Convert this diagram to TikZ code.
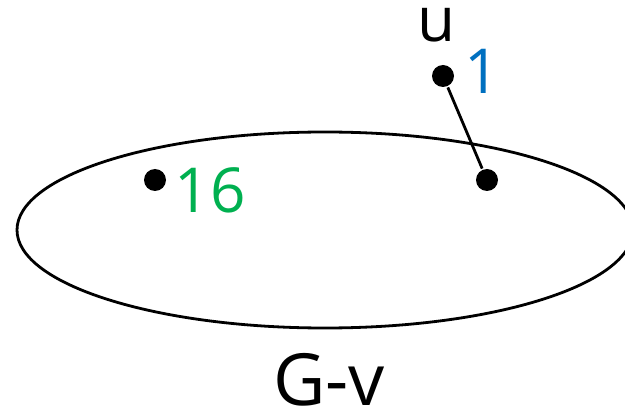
\documentclass[tikz,border=0pt]{standalone}
\usepackage{fontspec}
\setmainfont{Open Sans}
\usetikzlibrary{positioning,shapes.geometric}
\definecolor{labBlue}{HTML}{0070C0}
\definecolor{labGreen}{HTML}{00B050}

\tikzset{
  vtx/.style={circle,fill=black,inner sep=0pt,minimum size=22pt},
  lab/.style={inner sep=0pt,font=\fontsize{62}{62}\selectfont},
}

\begin{document}
\begin{tikzpicture}[x=1pt,y=-1pt,line width=2.8pt]
  \clip (0,0) rectangle (625,414);
  \node[draw,ellipse,inner sep=0pt,minimum width=616pt,minimum height=196pt] (gv) at (325,230) {};
  \node[vtx] (u) at (443,76) {};
  \node[vtx] (w) at (487,180) {};
  \node[vtx] (a) at (155,180) {};
  \draw (u) -- (w);
  \node[lab] (ulab) at (437,25) {u};
  \node[lab,text=labBlue] (one) at (482,71) {1};
  \node[lab,text=labGreen] (sixteen) at (210,190) {16};
  \node[lab,font=\fontsize{72}{72}\selectfont] (name) at (329,380) {G-v};
\end{tikzpicture}
\end{document}
